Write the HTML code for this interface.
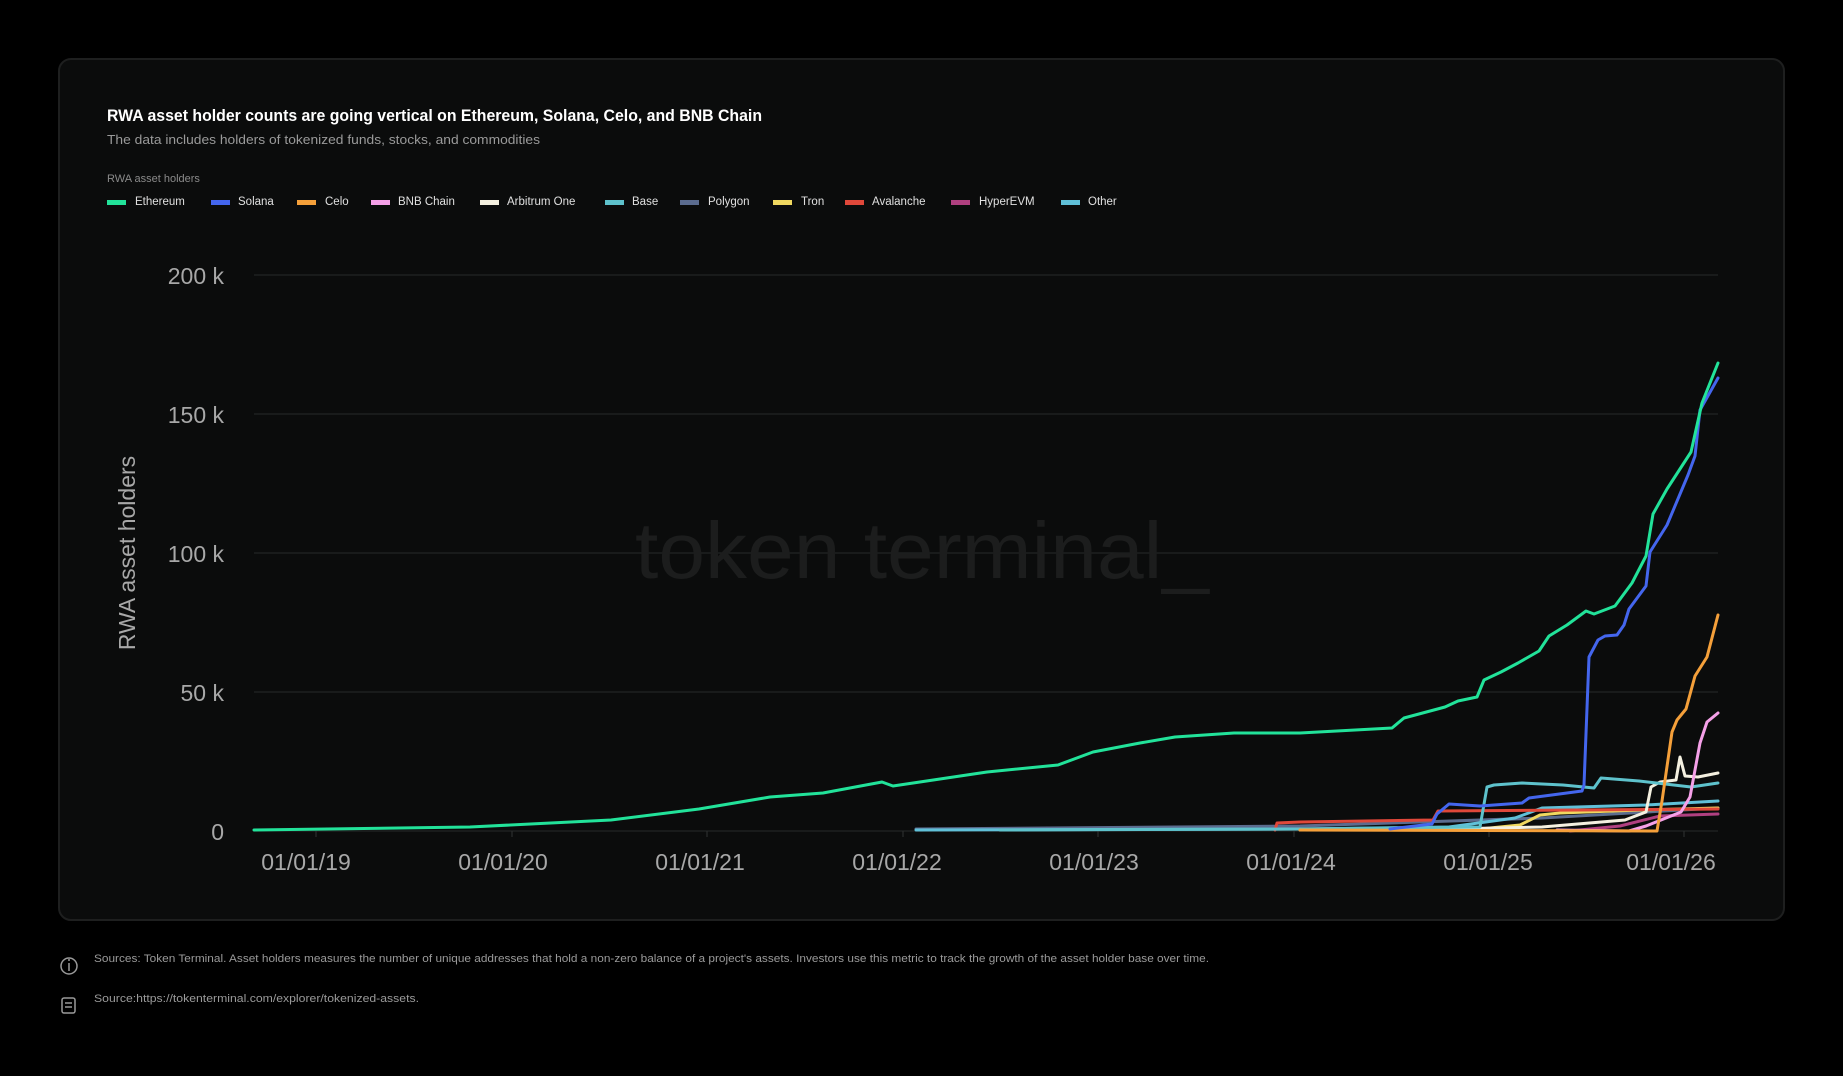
<!DOCTYPE html>
<html><head><meta charset="utf-8"><style>
html,body{margin:0;padding:0;background:#000;}
svg{display:block;}
text{font-family:"Liberation Sans",sans-serif;}
</style></head><body>
<svg width="1843" height="1076" viewBox="0 0 1843 1076" xmlns="http://www.w3.org/2000/svg">
<rect width="1843" height="1076" fill="#000"/>
<rect x="59" y="59" width="1725" height="861" rx="12" fill="#0b0c0c" stroke="#1e1f1f" stroke-width="2"/>
<text x="107" y="121" font-size="17" font-weight="bold" fill="#fff" textLength="655" lengthAdjust="spacingAndGlyphs">RWA asset holder counts are going vertical on Ethereum, Solana, Celo, and BNB Chain</text>
<text x="107" y="144" font-size="13" fill="#9a9a9a" textLength="433" lengthAdjust="spacingAndGlyphs">The data includes holders of tokenized funds, stocks, and commodities</text>
<text x="107" y="182" font-size="11" fill="#8a8a8a">RWA asset holders</text>
<g font-size="11.5" fill="#e0e0e0">
<rect x="107" y="200" width="19" height="5" fill="#22e39a"/><text x="135" y="205">Ethereum</text>
<rect x="211" y="200" width="19" height="5" fill="#4466ee"/><text x="238" y="205">Solana</text>
<rect x="297" y="200" width="19" height="5" fill="#f5a03a"/><text x="325" y="205">Celo</text>
<rect x="371" y="200" width="19" height="5" fill="#f5a0e8"/><text x="398" y="205">BNB Chain</text>
<rect x="480" y="200" width="19" height="5" fill="#f4f0e0"/><text x="507" y="205">Arbitrum One</text>
<rect x="605" y="200" width="19" height="5" fill="#5ec2cc"/><text x="632" y="205">Base</text>
<rect x="680" y="200" width="19" height="5" fill="#5b6c8f"/><text x="708" y="205">Polygon</text>
<rect x="773" y="200" width="19" height="5" fill="#f0d860"/><text x="801" y="205">Tron</text>
<rect x="845" y="200" width="19" height="5" fill="#e0483a"/><text x="872" y="205">Avalanche</text>
<rect x="951" y="200" width="19" height="5" fill="#b04080"/><text x="979" y="205">HyperEVM</text>
<rect x="1061" y="200" width="19" height="5" fill="#60c0d8"/><text x="1088" y="205">Other</text>
</g>
<g stroke="#222424" stroke-width="1.3">
<line x1="254" y1="275" x2="1718" y2="275"/>
<line x1="254" y1="414" x2="1718" y2="414"/>
<line x1="254" y1="553" x2="1718" y2="553"/>
<line x1="254" y1="692" x2="1718" y2="692"/>
<line x1="254" y1="831" x2="1718" y2="831"/>
</g>
<g stroke="#2a2c2c" stroke-width="1.3">
<line x1="316" y1="831" x2="316" y2="837"/><line x1="512" y1="831" x2="512" y2="837"/><line x1="707" y1="831" x2="707" y2="837"/><line x1="903" y1="831" x2="903" y2="837"/><line x1="1098" y1="831" x2="1098" y2="837"/><line x1="1294" y1="831" x2="1294" y2="837"/><line x1="1489" y1="831" x2="1489" y2="837"/><line x1="1684" y1="831" x2="1684" y2="837"/>
</g>
<g font-size="23" fill="#a8a8a8" text-anchor="end">
<text x="224" y="284">200 k</text><text x="224" y="423">150 k</text><text x="224" y="562">100 k</text><text x="224" y="701">50 k</text><text x="224" y="840">0</text>
</g>
<g font-size="23" fill="#a8a8a8" text-anchor="middle">
<text x="306" y="870">01/01/19</text><text x="503" y="870">01/01/20</text><text x="700" y="870">01/01/21</text><text x="897" y="870">01/01/22</text><text x="1094" y="870">01/01/23</text><text x="1291" y="870">01/01/24</text><text x="1488" y="870">01/01/25</text><text x="1671" y="870">01/01/26</text>
</g>
<text transform="translate(135,553) rotate(-90)" font-size="23" fill="#a8a8a8" text-anchor="middle">RWA asset holders</text>
<text x="635" y="578" font-size="80" fill="#1c1d1d" textLength="574" lengthAdjust="spacingAndGlyphs">token terminal_</text>
<g fill="none" stroke-width="3" stroke-linejoin="round" stroke-linecap="round">
<polyline stroke="#5b6c8f" points="916,829 1300,826 1542,818 1718,808"/>
<polyline stroke="#60c0d8" points="916,830 1300,829 1449,827 1515,818 1542,808 1646,805 1718,801"/>
<polyline stroke="#b04080" points="1570,831 1620,826 1660,816 1718,814"/>
<polyline stroke="#f0d860" points="1300,830 1480,829 1520,825 1540,815 1560,813 1640,810 1718,808"/>
<polyline stroke="#e0483a" points="1275,830 1277,823 1300,822 1433,820 1438,811 1718,809"/>
<polyline stroke="#f4f0e0" points="1400,830 1542,827 1625,820 1646,812 1651,787 1660,782 1676,780 1680,757 1685,776 1698,777 1718,773"/>
<polyline stroke="#5ec2cc" points="1000,830 1300,829 1480,827 1487,787 1494,785 1522,783 1563,785 1594,788 1601,778 1639,781 1691,787 1718,783"/>
<polyline stroke="#f5a0e8" points="1557,830 1629,831 1646,826 1681,812 1690,797 1700,743 1707,722 1718,713"/>
<polyline stroke="#f5a03a" points="1300,830 1657,831 1662,801 1672,732 1677,720 1686,709 1695,676 1707,657 1718,615"/>
<polyline stroke="#4466ee" points="1390,829 1432,824 1437,814 1449,804 1480,806 1522,803 1529,798 1582,791 1584,785 1589,657 1598,640 1605,636 1617,635 1624,625 1629,609 1646,586 1650,552 1667,525 1688,475 1695,456 1700,410 1718,378"/>
<polyline stroke="#22e39a" points="254,830 470,827 611,820 699,809 770,797 823,793 882,782 893,786 940,779 987,772 1058,765 1093,752 1140,743 1175,737 1234,733 1300,733 1392,728 1404,718 1445,707 1458,701 1477,697 1484,680 1501,672 1518,663 1539,651 1549,636 1567,625 1586,611 1594,614 1615,606 1632,583 1646,556 1653,514 1667,489 1691,452 1702,403 1718,363"/>
</g>
<g fill="none" stroke="#9a9a9a" stroke-width="1.5">
<circle cx="69" cy="966" r="8"/>
<line x1="69" y1="963" x2="69" y2="971"/>
<rect x="62" y="998" width="13" height="15" rx="2"/>
<line x1="65" y1="1003" x2="72" y2="1003"/><line x1="65" y1="1007" x2="72" y2="1007"/>
</g>
<circle cx="69" cy="960" r="1" fill="#9a9a9a"/>
<text x="94" y="962" font-size="11" fill="#9a9a9a" textLength="1115" lengthAdjust="spacingAndGlyphs">Sources: Token Terminal. Asset holders measures the number of unique addresses that hold a non-zero balance of a project's assets. Investors use this metric to track the growth of the asset holder base over time.</text>
<text x="94" y="1002" font-size="11" fill="#9a9a9a" textLength="325" lengthAdjust="spacingAndGlyphs">Source:https://tokenterminal.com/explorer/tokenized-assets.</text>
</svg>
</body></html>
